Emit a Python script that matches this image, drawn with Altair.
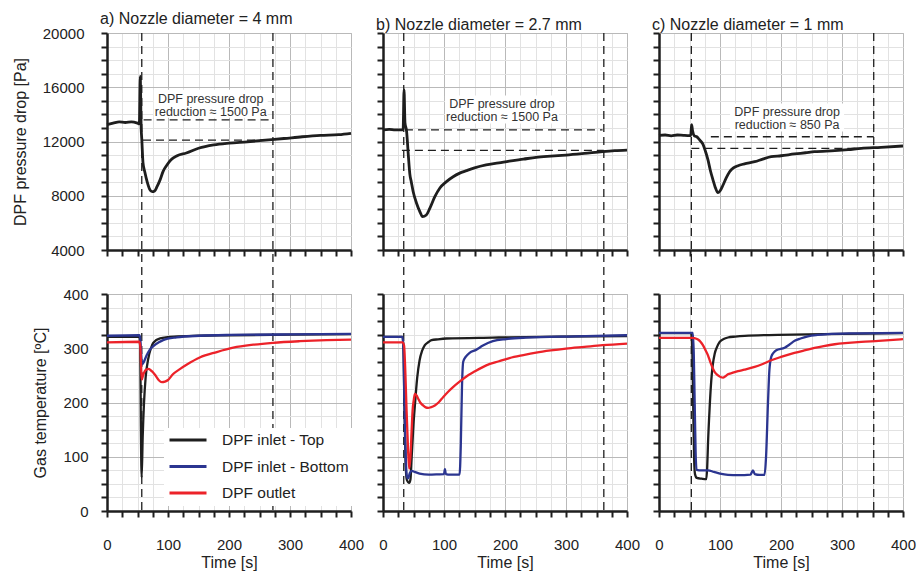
import altair as alt
import pandas as pd

FONT = "Liberation Sans"
INK = "#1e1e1e"
TEXT = "#222222"

TITLES = [
    "a) Nozzle diameter = 4 mm",
    "b) Nozzle diameter = 2.7 mm",
    "c) Nozzle diameter = 1 mm",
]

SERIES = ["DPF inlet - Top", "DPF inlet - Bottom", "DPF outlet"]
SERIES_COLORS = ["#1e1e1e", "#2b3590", "#ec2229"]

# ---- DPF pressure drop [Pa] -------------------------------------------------
a_p_t = [0, 10, 20, 30, 40, 50, 53, 54.5, 56, 57, 59, 62, 66, 70, 74, 78, 82,
         87, 92, 98, 105, 115, 130, 150, 175, 200, 230, 260, 290, 320, 350, 380, 400]
a_p_v = [13250, 13350, 13450, 13400, 13450, 13350, 13300, 16800, 13000, 12200,
         10450, 9750, 9000, 8470, 8300, 8350, 8670, 9170, 9800, 10250, 10650,
         10950, 11150, 11500, 11750, 11880, 11980, 12100, 12220, 12350, 12450,
         12500, 12600]

b_p_t = [0, 10, 20, 30, 33, 34.5, 36, 38.7, 41.5, 44, 46.5, 49.5, 55, 60.4,
         64.8, 71, 76.7, 85, 93, 104, 115, 125, 137, 150, 169, 190, 207, 230,
         251, 275, 300, 330, 360, 380, 400]
b_p_v = [12850, 12900, 12850, 12850, 12900, 15800, 13400, 12750, 11000, 9600,
         9000, 8300, 7450, 6830, 6460, 6580, 7070, 7930, 8550, 9040, 9400, 9650,
         9850, 10050, 10270, 10420, 10560, 10700, 10830, 10920, 11000, 11120,
         11250, 11320, 11370]

c_p_t = [0, 10, 20, 30, 40, 50, 52, 53.5, 55, 58.5, 62, 66.7, 72, 76, 80.3, 84,
         88.5, 92, 96.7, 100, 105, 110, 115.8, 122, 129.5, 140, 156.8, 170, 184,
         200, 222, 240, 255, 288, 310, 331.6, 364, 400]
c_p_v = [12450, 12480, 12420, 12480, 12450, 12430, 12450, 13250, 12800, 12400,
         12350, 12110, 11800, 11300, 10640, 9900, 9166, 8650, 8226, 8350, 8793,
         9300, 9774, 10050, 10217, 10350, 10512, 10700, 10880, 10950, 11080,
         11170, 11250, 11324, 11400, 11500, 11570, 11670]

# ---- Gas temperature [ºC] ---------------------------------------------------
a_top_t = [0, 53, 54.5, 55.5, 56.8, 58.5, 60.6, 63.4, 67.7, 72, 76, 87, 110,
           150, 200, 300, 400]
a_top_v = [321, 321, 300, 160, 62, 136, 198, 247, 281, 300, 310, 318, 321.5,
           323, 324, 325, 326]
a_bot_t = [0, 53, 54.5, 56, 57.5, 60, 65, 70, 76, 85, 92, 114, 152, 200, 300, 400]
a_bot_v = [323, 324, 318, 290, 270, 274, 287, 297, 304, 311, 315, 320, 323,
           324.5, 325.5, 326.5]
a_out_t = [0, 53, 54.5, 55.8, 57, 59, 62, 65, 68, 72, 76, 80, 85, 90, 95, 100,
           108, 120, 131, 152, 180, 207, 240, 272, 316, 360, 400]
a_out_v = [311, 312, 305, 270, 242, 250, 258, 261, 262, 259, 255, 249, 241,
           237.5, 238.5, 241.5, 252, 262, 270, 283, 293, 301, 306.5, 310, 313,
           315, 316]

b_top_t = [0, 32, 33.5, 35, 37, 39, 43, 45, 47, 50, 52.5, 56, 60, 64, 68.6, 74,
           79.5, 90, 104, 180, 289, 400]
b_top_v = [321, 321, 300, 200, 90, 58, 52, 58, 99, 160, 198, 245, 278, 295,
           305.6, 311, 314.8, 316.5, 318, 319.6, 321.4, 322.6]
b_bot_t = [0, 32, 33.5, 35, 37, 39, 41, 44, 47, 52, 60, 75, 90, 100, 101.5, 103,
           110, 125.5, 127.5, 129.5, 131.5, 135.5, 142, 152.5, 163.8, 180, 202,
           234, 316, 400]
b_bot_v = [321, 321, 300, 210, 110, 65, 60, 70, 74, 72, 69, 67, 67.5, 68, 77,
           68, 67, 67, 120, 230, 275, 284, 291.5, 297, 305, 313, 317, 319.6, 322,
           324]
b_out_t = [0, 32, 34.5, 36.5, 38.5, 41, 43, 45, 47, 48.5, 50.5, 52.3, 55, 57.7,
           61, 65.8, 70, 74, 78, 85, 91, 98.5, 106, 114.8, 125, 136.7, 150,
           169.3, 190, 207.4, 230, 251, 275, 300, 330, 360, 400]
b_out_v = [311, 311, 305, 260, 190, 115, 78, 100, 150, 185, 205, 216, 213, 207,
           200, 194.5, 191, 190, 191, 194.5, 200, 209.8, 219, 228.4, 238, 248,
           257, 268.5, 276, 282, 287.5, 292, 296, 299.4, 302.5, 305.6, 308.7]

c_top_t = [0, 53, 54.5, 56, 57.5, 59, 62, 70, 77.5, 79, 80.3, 83, 85.7, 88,
           91.3, 95, 99.5, 106, 113, 125, 140.4, 195, 300, 400]
c_top_v = [328, 328, 300, 200, 100, 68, 61, 59.5, 58.6, 80, 123.5, 190, 240.8,
           268, 290, 302, 311.7, 317, 319.8, 321.5, 322.9, 324.7, 326.5, 328]
c_bot_t = [0, 55.5, 57, 58.5, 60, 61.5, 70, 80.3, 90, 100, 113, 130, 150, 154,
           157, 165, 173, 175.5, 178.6, 181, 184, 188, 192.3, 206, 214, 222.4,
           232, 244, 260, 277, 320, 400]
c_bot_v = [328.5, 328.5, 290, 200, 110, 76, 75, 75, 72, 69, 66.7, 66, 67, 75,
           68, 66.5, 66.5, 100, 197.6, 260, 284, 292, 296.3, 301, 307, 313.6,
           318, 322, 324.5, 326, 327.5, 328.5]
c_out_t = [0, 54, 58, 63.9, 68, 72, 76, 80.3, 84, 88.5, 92, 96.7, 101, 105, 109,
           113, 120, 129.5, 140, 156.8, 170, 184, 200, 222, 240, 255, 270, 288,
           310, 331.6, 360, 400]
c_out_v = [319, 319, 318.5, 316, 312, 305.6, 297, 287, 275, 262.4, 255, 250,
           247, 245.7, 248.5, 252, 254.5, 257.8, 260.5, 265.5, 271, 277.8, 284,
           291.4, 296.5, 300.6, 304, 307.4, 309.8, 311.7, 313.5, 316.7]

# ---- event markers and pressure-drop reduction annotation ------------------
event_times = [[57, 272], [34, 362], [53, 352]]          # vertical dashed lines [s]
dp_before = [13600, 12850, 12350]                        # upper dashed level [Pa]
dp_reduction = [1500, 1500, 850]                         # stated reduction [Pa]
upper_span = [[60, 270], [36, 360], [85, 352]]           # [s]
lower_span = [[59, 272], [31, 362], [53, 352]]           # [s]
note_pos = [[170, 14850], [195, 14440], [210, 13850]]    # first text line [s, Pa]

P_T = [a_p_t, b_p_t, c_p_t]
P_V = [a_p_v, b_p_v, c_p_v]
T_T = [[a_top_t, a_bot_t, a_out_t], [b_top_t, b_bot_t, b_out_t], [c_top_t, c_bot_t, c_out_t]]
T_V = [[a_top_v, a_bot_v, a_out_v], [b_top_v, b_bot_v, b_out_v], [c_top_v, c_bot_v, c_out_v]]

W, H = 244, 217
ROW_GAP, COL_GAP = 44, 32
DASH = [8, 5]

x_ticks = list(range(0, 401, 25))
p_ticks = list(range(4000, 20001, 1000))
temp_ticks = list(range(0, 401, 25))


def grid_color(step):
    return alt.condition(f"datum.value % {step} === 0",
                         alt.value("#b9b9b9"), alt.value("#e2e2e2"))


AXIS = dict(tickSize=6, tickWidth=2, tickColor=INK, domainColor=INK,
            domainWidth=2.5, labelFlush=False, labelOverlap=False,
            labelFont=FONT, titleFont=FONT, labelColor=TEXT, titleColor=TEXT,
            labelFontSize=15, titleFontSize=16, titleFontWeight="normal",
            gridWidth=1, grid=True)


def x_enc(field, bottom):
    if bottom:
        axis = alt.Axis(values=x_ticks, title="Time [s]", labelPadding=20,
                        titlePadding=2, gridColor=grid_color(100),
                        labelExpr="datum.value % 100 === 0 ? datum.label : ''",
                        **AXIS)
    else:
        axis = alt.Axis(values=x_ticks, title=None, labels=False,
                        gridColor=grid_color(100), **AXIS)
    return alt.X(f"{field}:Q", scale=alt.Scale(domain=[0, 400], nice=False), axis=axis)


def y_pressure(field, first):
    if first:
        axis = alt.Axis(values=p_ticks, title="DPF pressure drop [Pa]", format="d",
                        labelPadding=17, titlePadding=14, gridColor=grid_color(4000),
                        labelExpr="datum.value % 4000 === 0 ? datum.label : ''",
                        **AXIS)
    else:
        axis = alt.Axis(values=p_ticks, title=None, labels=False,
                        gridColor=grid_color(4000), **AXIS)
    return alt.Y(f"{field}:Q", scale=alt.Scale(domain=[4000, 20000], nice=False), axis=axis)


def y_temp(field, first):
    if first:
        axis = alt.Axis(values=temp_ticks, title="Gas temperature [ºC]",
                        labelPadding=13, titlePadding=14, gridColor=grid_color(100),
                        labelExpr="datum.value % 100 === 0 ? datum.label : ''",
                        **AXIS)
    else:
        axis = alt.Axis(values=temp_ticks, title=None, labels=False,
                        gridColor=grid_color(100), **AXIS)
    return alt.Y(f"{field}:Q", scale=alt.Scale(domain=[0, 400], nice=False), axis=axis)


def pressure_panel(i):
    first = i == 0
    curve = pd.DataFrame({"t": P_T[i], "p": P_V[i]})
    levels = pd.DataFrame({
        "x0": [upper_span[i][0], lower_span[i][0]],
        "x1": [upper_span[i][1], lower_span[i][1]],
        "p": [dp_before[i], dp_before[i] - dp_reduction[i]],
    })
    events = pd.DataFrame({"t": event_times[i]})
    note = pd.DataFrame({
        "t": [note_pos[i][0]], "p": [note_pos[i][1]],
        "label": [f"DPF pressure drop\nreduction \u2248 {dp_reduction[i]} Pa"],
    })

    box = alt.Chart(note).mark_rect(color="white", width=114, height=28,
                                    yOffset=1).encode(
        x=x_enc("t", False), y=y_pressure("p", first))
    line = alt.Chart(curve).mark_line(color=INK, strokeWidth=2.8,
                                      interpolate="monotone").encode(
        x=x_enc("t", False), y=y_pressure("p", first))
    hdash = alt.Chart(levels).mark_rule(color=INK, strokeWidth=1.3,
                                        strokeDash=DASH).encode(
        x=x_enc("x0", False), x2="x1:Q", y=y_pressure("p", first))
    vdash = alt.Chart(events).mark_rule(color=INK, strokeWidth=1.3,
                                        strokeDash=DASH).encode(
        x=x_enc("t", False), y=alt.value(0), y2=alt.value(H + ROW_GAP))
    text = alt.Chart(note).mark_text(font=FONT, fontSize=12.5, lineHeight=13,
                                     lineBreak="\n", baseline="alphabetic",
                                     color="#333333").encode(
        x=x_enc("t", False), y=y_pressure("p", first), text="label:N")

    return alt.layer(box, line, hdash, vdash, text).properties(
        width=W, height=H,
        title=alt.TitleParams(TITLES[i], anchor="start", frame="group", dx=-7,
                              offset=-14, baseline="alphabetic", font=FONT,
                              fontSize=16, fontWeight="normal", color=TEXT))


def temperature_panel(i):
    first = i == 0
    rows = []
    for s, name in enumerate(SERIES):
        for t, v in zip(T_T[i][s], T_V[i][s]):
            rows.append({"t": t, "temp": v, "series": name, "k": s})
    df = pd.DataFrame(rows)
    events = pd.DataFrame({"t": event_times[i]})

    if first:
        legend = alt.Legend(orient="none", legendX=57, legendY=134, title=None,
                            fillColor="white", padding=4, symbolType="stroke",
                            symbolSize=1369, symbolStrokeWidth=3, clipHeight=16,
                            rowPadding=9.5, labelOffset=14, labelFont=FONT,
                            labelFontSize=15.5, labelColor=TEXT)
    else:
        legend = None
    color = alt.Color("series:N", scale=alt.Scale(domain=SERIES, range=SERIES_COLORS),
                      legend=legend)

    vdash = alt.Chart(events).mark_rule(color=INK, strokeWidth=1.3,
                                        strokeDash=DASH).encode(
        x=x_enc("t", True), y=alt.value(0), y2=alt.value(H))
    lines = alt.Chart(df).mark_line(strokeWidth=2.3, interpolate="monotone").encode(
        x=x_enc("t", True), y=y_temp("temp", first), color=color,
        detail="k:O")

    return alt.layer(vdash, lines).properties(width=W, height=H)


panels = [pressure_panel(i) for i in range(3)] + [temperature_panel(i) for i in range(3)]

chart = alt.concat(
    *panels, columns=3, spacing={"row": ROW_GAP, "column": COL_GAP}, bounds="flush"
).resolve_legend(
    color="independent"
).properties(
    padding={"left": 11, "top": 10, "right": 5, "bottom": 5}
).configure(
    font=FONT
).configure_view(
    stroke="#bdbdbd", strokeWidth=1
)

chart.save("out.html", embed_options={"renderer": "svg", "actions": False})
